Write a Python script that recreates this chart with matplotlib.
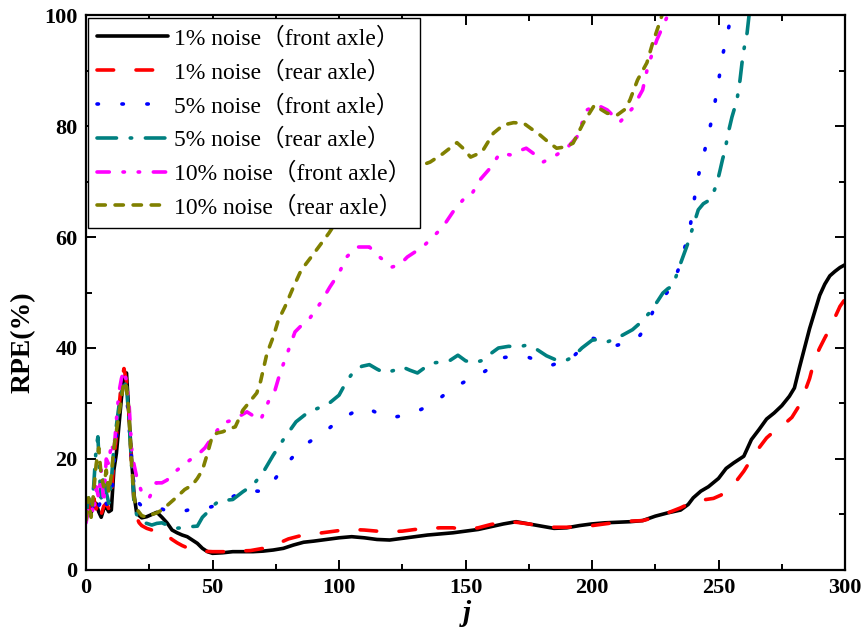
import numpy as np
import matplotlib
matplotlib.use("Agg")
import matplotlib.pyplot as plt
from matplotlib.ticker import MultipleLocator

plt.rcParams['font.family'] = ['Liberation Serif', 'Noto Sans CJK SC']
plt.rcParams['mathtext.fontset'] = 'custom'
plt.rcParams['mathtext.it'] = 'Liberation Serif:italic:bold'

# === Values ===
j_front1 = [0, 1, 2, 3, 4, 5, 6, 7, 8, 9, 10, 11, 12, 13, 14, 15, 16, 17, 18, 19, 20, 21, 22, 24, 26, 28,
            30, 32, 34, 36, 38, 40, 42, 44, 46, 48, 50, 54, 58, 62, 66, 70, 74, 78, 82, 86, 90, 95, 100,
            105, 110, 115, 120, 125, 130, 135, 140, 145, 150, 155, 160, 165, 170, 175, 180, 185, 190, 195,
            200, 205, 210, 215, 220, 225, 230, 235, 238, 240, 243, 246, 250, 253, 256, 260, 263, 266, 269,
            272, 275, 278, 280, 282, 284, 286, 288, 290, 292, 294, 296, 298, 300]
rpe_front1 = [11.3, 12.5, 10.3, 11.5, 12, 10.5, 9.5, 11, 11.3, 10.5, 10.8, 18, 21, 26, 31, 34.5, 35.5, 27.6,
              20, 13.5, 10.3, 9.8, 9.4, 9.6, 10, 10.4, 9.5, 8.5, 7.2, 6.7, 6.3, 6, 5.4, 4.8, 3.9, 3.3, 3.0,
              3.1, 3.3, 3.3, 3.3, 3.4, 3.6, 3.9, 4.5, 5.0, 5.2, 5.5, 5.8, 6.0, 5.8, 5.5, 5.4, 5.7, 6.0, 6.3,
              6.5, 6.7, 7.0, 7.3, 7.8, 8.3, 8.7, 8.3, 7.9, 7.5, 7.6, 8.0, 8.3, 8.5, 8.6, 8.7, 8.9, 9.7, 10.3,
              10.8, 11.8, 13.0, 14.2, 15.0, 16.5, 18.3, 19.3, 20.5, 23.5, 25.3, 27.2, 28.3, 29.6, 31.3, 32.8,
              36.5, 40, 43.5, 46.5, 49.5, 51.5, 53, 53.8, 54.5, 55]

j_rear1 = [0, 1, 2, 3, 4, 5, 6, 7, 8, 9, 10, 11, 12, 13, 14, 15, 16, 17, 18, 19, 20, 21, 22, 24, 26, 28, 30,
           32, 34, 36, 38, 40, 42, 46, 50, 55, 60, 65, 70, 75, 80, 85, 90, 95, 100, 105, 110, 115, 120, 125,
           130, 135, 140, 145, 150, 155, 160, 165, 170, 175, 180, 185, 190, 195, 200, 205, 210, 215, 220,
           225, 230, 235, 240, 245, 248, 251, 254, 257, 260, 263, 266, 269, 272, 276, 279, 282, 284, 286,
           288, 290, 292, 294, 296, 298, 300]
rpe_rear1 = [10.5, 12, 9.5, 13, 11, 12.5, 10, 11.5, 12, 11, 13, 20, 24, 29, 34, 36.3, 34, 28, 19, 12, 9.5,
             8.5, 8, 7.5, 7.2, 7.3, 7.0, 6.2, 5.5, 4.9, 4.4, 4.0, 3.6, 3.4, 3.3, 3.3, 3.4, 3.5, 3.9, 4.6,
             5.6, 6.2, 6.5, 6.8, 7.1, 7.3, 7.2, 7.0, 6.9, 7.0, 7.3, 7.5, 7.6, 7.6, 7.3, 7.6, 8.2, 8.6, 8.6,
             8.3, 7.9, 7.7, 7.7, 7.8, 8.0, 8.3, 8.6, 8.8, 8.9, 9.5, 10.3, 11.2, 12.3, 12.7, 12.9, 13.5,
             14.7, 16, 17.8, 20, 22, 23.8, 25, 26.3, 27.5, 29.7, 32, 34.5, 38, 40, 41.8, 43.5, 45.5, 47.5,
             48.8]

j_front5 = [0, 1, 2, 3, 4, 5, 6, 7, 8, 9, 10, 11, 12, 13, 14, 15, 16, 17, 18, 19, 20, 22, 24, 26, 28, 30,
            32, 35, 38, 41, 44, 48, 52, 56, 60, 64, 68, 71, 74, 77, 80, 84, 88, 92, 96, 100, 104, 108, 111,
            115, 120, 125, 130, 135, 140, 145, 150, 155, 160, 164, 170, 175, 180, 184, 188, 192, 196, 200,
            205, 210, 215, 219, 222, 224, 228, 231, 234, 236, 237.5, 239, 240.5, 242, 244, 245.5, 247,
            248.5, 250, 251.5, 253, 254, 255.5]
rpe_front5 = [12, 10.5, 12.5, 11, 13, 11.5, 12.5, 10.5, 12, 11.5, 12.5, 19, 24, 29, 32, 33.5, 32, 26, 20,
              15, 12.5, 11.5, 11.5, 11.7, 11.5, 11, 10.6, 10.3, 10.5, 10.9, 10.8, 11.2, 11.7, 12.7, 13.7,
              14.3, 14.2, 14.3, 16, 17.8, 19.5, 21.5, 23, 24.2, 25.5, 27, 28, 29, 29.2, 28.3, 27.4, 27.8,
              28.4, 29.5, 31, 32.8, 34, 35, 36.5, 38.2, 38.6, 38.3, 37.5, 36.9, 37.5, 38.2, 40, 41.8, 41.2,
              40.5, 41.2, 42.3, 44.5, 46.5, 49, 50.8, 54, 57, 59.5, 62.5, 67, 71, 74.5, 77.5, 80.5, 84, 88,
              92.5, 95.5, 97.7, 101]

j_rear5 = [0, 1, 2, 3, 4, 4.7, 5.5, 6, 7, 8, 9, 10, 11, 12, 13, 14, 15, 16, 17, 18, 19, 20, 22, 24, 26, 28,
           30, 32, 35, 38, 41, 44, 46, 48, 50, 53, 56, 58, 62, 66, 70, 74, 78, 83, 88, 92, 96, 100, 103, 106,
           109, 112, 115, 118, 122, 125, 128, 131, 134, 137, 141, 144, 147, 150, 153, 157, 160, 163, 167,
           171, 174, 178, 182, 186, 189, 192.5, 196, 200, 203, 206, 209, 212, 216, 219, 223, 226, 228, 230,
           232, 234, 236, 238, 240, 242, 244, 246.6, 248, 249.4, 250.6, 251.6, 252.6, 253.8, 255.3, 257.3,
           258.5, 259.7, 261.3, 262.2]
rpe_rear5 = [10, 13, 11, 15, 22, 24, 16, 13, 17, 14, 12, 16, 22, 26, 29.5, 32, 34, 33, 27, 19, 12, 10, 8.6,
             8.4, 8.1, 8.4, 8.5, 8.1, 7.5, 7.6, 7.8, 7.9, 9.5, 10.4, 11.5, 12.6, 12.6, 12.7, 14.1, 15.3,
             17.6, 20.7, 23.5, 26.7, 28.5, 29.2, 30, 31.5, 34, 35.9, 36.7, 37, 36.2, 35.5, 36, 36.6, 36,
             35.5, 36.5, 37.3, 37.5, 37.8, 38.7, 37.7, 37.3, 37.8, 39, 40, 40.3, 40.2, 40.5, 39.8, 38.6,
             37.8, 37.6, 38.4, 40, 41.4, 41.6, 41.1, 41.6, 42.3, 43.3, 44.5, 46.5, 48.5, 49.9, 50.7, 51.2,
             54, 56.5, 59, 62, 64.9, 66, 66.7, 68, 69.7, 72, 74, 75.7, 78.7, 81.6, 84.7, 88.3, 93, 96.8,
             100.5]

j_front10 = [0, 1, 2, 3, 4, 5, 6, 7, 8, 9, 10, 11, 12, 13, 14, 15, 16, 17, 18, 18.6, 20, 22, 24, 25, 27.7,
             30, 32, 36, 41, 44, 47, 50, 54, 58, 63.6, 66, 69, 72.7, 74.7, 76.7, 80, 82.6, 85, 88.5, 92.5,
             96.4, 100, 103, 107, 112, 116, 121, 124, 127, 133, 136, 141, 145, 149, 151.8, 155.7, 159.7,
             163.6, 167.6, 171, 174, 177, 180.6, 184.6, 190, 194, 198, 202, 206, 211, 216, 220, 222, 225.6,
             229.6, 230.5]
rpe_front10 = [8.5, 11, 12, 10, 15, 13, 18, 12, 20, 19, 23, 21, 27, 32, 34.5, 36, 34, 30, 22, 19.8, 16.8,
               14, 13, 13, 15.7, 15.7, 16.2, 18, 19.8, 20.7, 22, 24, 26.5, 27, 28.5, 27.8, 27, 31, 32.4,
               35.5, 39.6, 42.9, 44, 45.4, 48, 51, 53.5, 56.4, 58.2, 58.2, 56.4, 54.6, 55, 56.4, 58.2, 59.5,
               61.8, 64.5, 66.7, 67.2, 70.3, 72.4, 75.1, 74.8, 75.5, 76, 75, 73.5, 74.4, 76, 78, 82.9, 83.8,
               82.9, 80.7, 83.2, 86.5, 90.6, 95.5, 99.6, 101]

j_rear10 = [0, 1, 2, 3, 4, 5, 6, 7, 8, 9, 10, 11, 12, 13, 14, 15, 16, 17, 18, 19, 20, 22, 24, 26, 28, 30,
            33, 36, 39, 42, 44, 46, 48, 50, 52, 54, 57, 59, 62, 65, 67.5, 69, 71.5, 74, 76, 78.6, 82, 85, 90,
            96, 100, 105, 110, 115, 120, 125, 130, 136, 141, 146.6, 149, 152, 155, 157, 161, 165, 169, 173,
            176, 179.4, 183, 186, 189, 192.5, 196.5, 201, 203.5, 206, 210, 213, 215, 218, 221.7, 224, 227,
            228]
rpe_rear10 = [9, 13, 9.5, 14, 19, 22, 17, 15, 18, 14, 17, 22, 25, 28, 31, 34, 33, 28, 19, 13, 11, 9.8, 9.5,
              10, 10.3, 10.8, 12, 13.2, 14.5, 15.3, 16.5, 18, 21, 24.3, 24.7, 24.9, 25.5, 25.8, 28.8, 30.5,
              31.9, 34, 39, 42, 45, 47.4, 51, 54, 57, 60.7, 63.5, 66, 68, 69.5, 70.5, 71.5, 72.5, 73.5, 75,
              77, 76, 74.4, 75, 75.7, 78.7, 80.2, 80.6, 80.5, 79.5, 78.4, 77, 76, 76.2, 76.9, 80.5, 83.8,
              83, 82.3, 82, 83, 84.7, 88.3, 91.4, 95, 99, 100.5]

labels = ['1% noise\uff08front axle\uff09', '1% noise\uff08rear axle\uff09',
          '5% noise\uff08front axle\uff09', '5% noise\uff08rear axle\uff09',
          '10% noise\uff08front axle\uff09', '10% noise\uff08rear axle\uff09']
colors = ['#000000', '#FF0000', '#0000FF', '#008080', '#FF00FF', '#808000']
dashes = [None, (4.6, 6.2), (0.4, 6.5), (5.4, 3.8, 0.4, 3.8),
          (3.4, 3.8, 0.4, 3.8, 0.4, 3.8), (2.3, 2.7)]


def plot_rpe():
    fig = plt.figure(figsize=(8.62, 6.39), dpi=100)
    ax = fig.add_axes([0.0998, 0.108, 0.8805, 0.8685])

    data = [(j_front1, rpe_front1), (j_rear1, rpe_rear1), (j_front5, rpe_front5),
            (j_rear5, rpe_rear5), (j_front10, rpe_front10), (j_rear10, rpe_rear10)]
    for (j, rpe), label, color, dash in zip(data, labels, colors, dashes):
        line, = ax.plot(j, rpe, color=color, linewidth=2.6, label=label,
                        solid_capstyle='round', dash_capstyle='round')
        if dash is not None:
            line.set_dashes(dash)

    ax.set_xlim(0, 300)
    ax.set_ylim(0, 100)
    ax.xaxis.set_major_locator(MultipleLocator(50))
    ax.xaxis.set_minor_locator(MultipleLocator(25))
    ax.yaxis.set_major_locator(MultipleLocator(20))
    ax.yaxis.set_minor_locator(MultipleLocator(10))
    ax.tick_params(which='both', direction='in', top=True, right=True, width=1.4)
    ax.tick_params(which='major', length=7, labelsize=16, pad=6)
    ax.tick_params(which='minor', length=4)
    for lab in ax.get_xticklabels() + ax.get_yticklabels():
        lab.set_fontweight('bold')
    for sp in ax.spines.values():
        sp.set_linewidth(1.6)

    ax.set_xlabel(r'$j$', fontsize=21, labelpad=0)
    ax.set_ylabel('RPE(%)', fontsize=20, fontweight='bold')
    ax.yaxis.set_label_coords(-0.066, 0.41)

    leg = ax.legend(loc='upper left', bbox_to_anchor=(0.002, 0.995), fontsize=17,
                    handlelength=3.0, handletextpad=0.25, labelspacing=0.48,
                    borderpad=0.4, borderaxespad=0.0, fancybox=False, framealpha=1,
                    edgecolor='black')
    leg.get_frame().set_linewidth(1.0)

    fig.savefig('out.png', dpi=100)


if __name__ == '__main__':
    plot_rpe()
